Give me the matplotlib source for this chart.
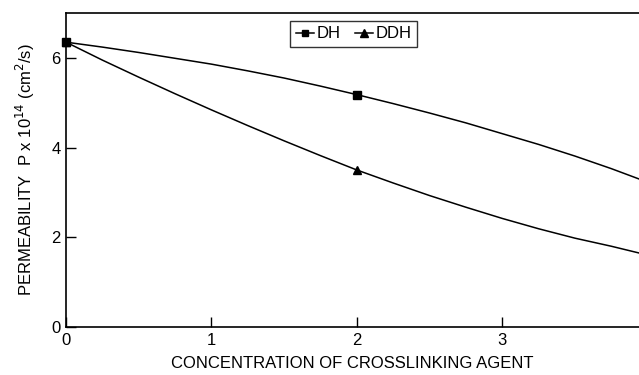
from matplotlib import pyplot as plt

plt.rcParams['font.family'] = ['Liberation Sans', 'DejaVu Sans']

# curve values (every 0.25 unit, last one at the right edge)
conc = [0, 0.25, 0.5, 0.75, 1, 1.25, 1.5, 1.75, 2, 2.25, 2.5, 2.75, 3, 3.25, 3.5, 3.75, 3.94]
dh_curve = [6.35, 6.24, 6.12, 5.99, 5.86, 5.71, 5.55, 5.37, 5.18, 4.98, 4.77, 4.55, 4.31,
            4.07, 3.81, 3.53, 3.30]
ddh_curve = [6.35, 5.95, 5.57, 5.20, 4.84, 4.49, 4.15, 3.82, 3.50, 3.21, 2.93, 2.67, 2.42,
             2.19, 1.98, 1.80, 1.65]

# measured points
conc_pts = [0, 2]
dh_pts = [6.35, 5.18]
ddh_pts = [6.35, 3.50]

x_ticks = [0, 1, 2, 3]
y_ticks = [0, 2, 4, 6]

fig = plt.figure(figsize=(6.39, 3.75), dpi=100)
ax = fig.add_axes([66 / 639, 1 - 327 / 375, 1 - 66 / 639, (327 - 13) / 375])

ax.plot(conc, dh_curve, color='black', lw=1.1)
ax.plot(conc, ddh_curve, color='black', lw=1.1)
ax.plot(conc_pts, dh_pts, ls='none', marker='s', ms=5.5, color='black', clip_on=False)
ax.plot(conc_pts, ddh_pts, ls='none', marker='^', ms=6, color='black', clip_on=False)

# legend handles
h1, = ax.plot([], [], color='black', lw=1.1, marker='s', ms=5)
h2, = ax.plot([], [], color='black', lw=1.1, marker='^', ms=5.5)
leg = ax.legend([h1, h2], ['DH', 'DDH'], loc='upper center', bbox_to_anchor=(0.502, 1.0),
                ncol=2, fontsize=12, handlelength=1.1, handletextpad=0.1, columnspacing=0.9,
                borderpad=0.35, frameon=True, fancybox=False, borderaxespad=0.45)
leg.get_frame().set_edgecolor('black')
leg.get_frame().set_linewidth(1.0)

ax.set_xlim(0, 3.94)
ax.set_ylim(0, 7.0)
ax.set_xticks(x_ticks)
ax.set_yticks(y_ticks)
ax.tick_params(direction='in', length=7, width=1, labelsize=12, pad=4)
ax.spines['right'].set_visible(False)
for s in ['left', 'bottom', 'top']:
    ax.spines[s].set_linewidth(1.2)

ax.set_xlabel('CONCENTRATION OF CROSSLINKING AGENT', fontsize=12, labelpad=6)
ax.set_ylabel('PERMEABILITY  P x 10$^{14}$ (cm$^2$/s)', fontsize=12, labelpad=10)

plt.savefig('out.png', dpi=100)
